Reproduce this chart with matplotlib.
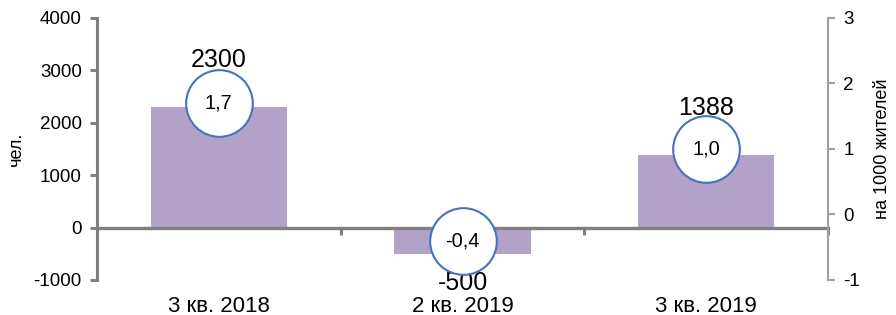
import matplotlib
matplotlib.use("Agg")
import matplotlib.pyplot as plt
import matplotlib.transforms as mtransforms

plt.rcParams['font.family'] = ['Liberation Sans', 'DejaVu Sans']

categories = ["3 кв. 2018", "2 кв. 2019", "3 кв. 2019"]
persons = [2300, -500, 1388]
per_1000 = [1.7, -0.4, 1.0]
rate_labels = ["1,7", "-0,4", "1,0"]
left_ticks = [-1000, 0, 1000, 2000, 3000, 4000]
right_ticks = [-1, 0, 1, 2, 3]

fig = plt.figure(figsize=(8.96, 3.15), dpi=100)
ax = fig.add_axes([97/896, 1-280/315, (828-97)/896, (280-18)/315])
ax2 = ax.twinx()

x = list(range(len(categories)))
bar_color = '#B3A2C7'
spine_col = '#808080'

ax.bar(x, persons, width=0.56, color=bar_color, zorder=2)
ax.set_xlim(-0.5, 2.5)
ax.set_ylim(-1000, 4000)
ax.set_yticks(left_ticks)
ax.set_yticklabels([str(t) for t in left_ticks], fontsize=13.5)

for s in ['top', 'right']:
    ax.spines[s].set_visible(False)
ax.spines['left'].set_color(spine_col)
ax.spines['left'].set_linewidth(2.2)
ax.spines['bottom'].set_position(('data', 0))
ax.spines['bottom'].set_color(spine_col)
ax.spines['bottom'].set_linewidth(2.4)
ax.spines['bottom'].set_zorder(3)
ax.set_xticks([-0.5, 0.5, 1.5, 2.5])
ax.set_xticklabels([])
ax.tick_params(axis='x', direction='out', length=5, width=2.2, color=spine_col)
ax.tick_params(axis='y', direction='out', length=5, width=2.2, color=spine_col, pad=6)
ax.set_ylabel("чел.", fontsize=13, labelpad=6)

trans = mtransforms.blended_transform_factory(ax.transData, ax.transAxes)
for xi, c in zip(x, categories):
    ax.text(xi, -0.1, c, transform=trans, ha='center', va='center', fontsize=16)

ax2.set_ylim(-1, 3)
ax2.set_yticks(right_ticks)
ax2.set_yticklabels([str(t) for t in right_ticks], fontsize=13.5)
for s in ['top', 'left', 'bottom']:
    ax2.spines[s].set_visible(False)
ax2.spines['right'].set_color('#A0A0A0')
ax2.spines['right'].set_linewidth(1.5)
ax2.tick_params(axis='y', direction='out', length=5, width=1.5, color='#A0A0A0', pad=6)
ax2.set_ylabel("на 1000 жителей", fontsize=13, labelpad=10)

ax2.plot(x, per_1000, linestyle='none', marker='o', markersize=48,
         markerfacecolor='white', markeredgecolor='#4472C4', markeredgewidth=1.5, zorder=5)
for xi, v, lab in zip(x, per_1000, rate_labels):
    ax2.text(xi, v, lab, ha='center', va='center', fontsize=14.5, zorder=6)

for xi, v in zip(x, persons):
    off = 34 if v >= 0 else -21
    ax.annotate(str(v), (xi, v), xytext=(0, off), textcoords='offset points',
                ha='center', va='center', fontsize=18)

fig.savefig("out.png", dpi=100)
